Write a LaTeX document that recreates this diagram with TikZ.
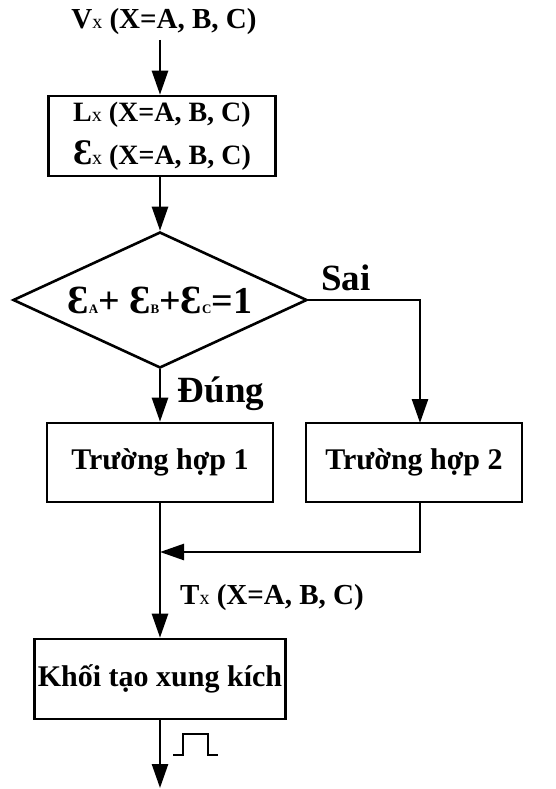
\documentclass[tikz,border=0pt]{standalone}
\usepackage{fontspec}
\setmainfont{Liberation Serif}
\usetikzlibrary{shapes.geometric,arrows.meta}
% small regular-weight index letter sitting on the baseline
\newcommand\lowx{{\mdseries\fontsize{20}{20}\selectfont x}}
% tiny phase index for the epsilon terms
\newcommand\phs[1]{{\fontsize{13}{13}\selectfont #1}}
\newcommand\bigeps[1]{{\fontsize{#1}{#1}\selectfont Ɛ}}
\begin{document}
\begin{tikzpicture}[x=1pt,y=-1pt,line width=2.6pt,
  lbl/.style={inner sep=0pt,font=\bfseries\fontsize{29}{32}\selectfont},
  biglbl/.style={inner sep=0pt,font=\bfseries\fontsize{37}{40}\selectfont},
  box/.style={draw,rectangle,inner sep=0pt,align=center,
    font=\bfseries\fontsize{30}{43}\selectfont},
  decision/.style={draw,diamond,aspect=2.2,inner sep=0pt,
    minimum width=294pt,minimum height=136pt,
    font=\bfseries\fontsize{38}{40}\selectfont},
  arr/.style={-{Triangle[length=24pt,width=16pt]}}]
\useasboundingbox (0,0) rectangle (555,789);

% blocks
\node[lbl] (vx) at (164,22) {V\lowx\ (X=A, B, C)};
\node[box,minimum width=227pt,minimum height=80pt,
  font=\bfseries\fontsize{28}{43}\selectfont] (calc) at (162,136)
  {L\lowx\ (X=A, B, C)\\\bigeps{36}\lowx\ (X=A, B, C)};
\node[decision] (cond) at (160,300)
  {\bigeps{40}\phs{A}+ \bigeps{40}\phs{B}+\bigeps{40}\phs{C}=1};
\node[box,minimum width=226pt,minimum height=79pt] (caseA) at (160,462.5)
  {Trường hợp 1};
\node[box,minimum width=216pt,minimum height=79pt] (caseB) at (414,462.5)
  {Trường hợp 2};
\node[box,minimum width=251pt,minimum height=80pt] (pulse) at (160,679)
  {Khối tạo xung kích};

% branch labels
\node[biglbl] (no) at (346,278) {Sai};
\node[biglbl] (yes) at (221,394) {Đúng};
\node[lbl] (tx) at (272,598) {T\lowx\ (X=A, B, C)};

% helper points
\coordinate (vin) at (160,40);
\coordinate (joinB) at (420,423);
\coordinate (merge) at (160,552);
\coordinate (out) at (160,788);

% connectors
\draw[arr] (vin) -- (vin |- calc.north);
\draw[arr] (calc.south -| vin) -- (cond.north);
\draw[arr] (cond.south) -- (caseA.north);
\draw[arr] (cond.east) -| (joinB);
\draw[arr] (caseA.south) -- (pulse.north);
\draw[arr] (caseB.south -| joinB) |- (merge);
\draw[arr] (pulse.south) -- (out);

% output pulse sketch
\draw[line width=2.2pt] (173,755) -- (183,755) -- (183,734) -- (208,734)
  -- (208,755) -- (218,755);
\end{tikzpicture}
\end{document}
